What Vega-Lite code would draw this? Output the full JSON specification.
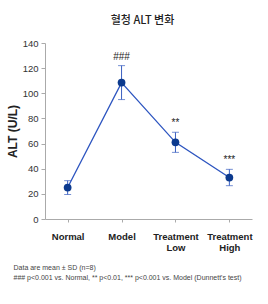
{
  "$schema": "https://vega.github.io/schema/vega-lite/v6.json",
  "width": 207,
  "height": 176,
  "autosize": {"type": "none"},
  "padding": {"left": 45, "top": 43, "right": 16, "bottom": 85},
  "background": "white",
  "config": {
    "font": "Liberation Sans",
    "view": {"stroke": null}
  },
  "title": {
    "text": "혈청 ALT 변화",
    "font": "Noto Sans CJK KR",
    "fontSize": 11,
    "fontWeight": 500,
    "color": "#222222",
    "anchor": "middle",
    "dx": -6,
    "offset": 12
  },
  "data": {
    "values": [
      {"group": "Normal", "mean": 25, "sd": 5.5, "sig": ""},
      {"group": "Model", "mean": 108.5, "sd": 13.5, "sig": "###"},
      {"group": "Treatment Low", "mean": 61, "sd": 8, "sig": "**"},
      {"group": "Treatment High", "mean": 33, "sd": 6.5, "sig": "***"}
    ]
  },
  "transform": [{"calculate": "datum.mean + datum.sd", "as": "upper"}],
  "encoding": {
    "x": {
      "field": "group",
      "type": "nominal",
      "sort": null,
      "scale": {"type": "point", "padding": 0.42},
      "axis": {
        "labelExpr": "split(datum.label, ' ')",
        "labelAngle": 0,
        "labelFontWeight": "bold",
        "labelFontSize": 9.5,
        "labelColor": "#222222",
        "labelPadding": 9,
        "labelLineHeight": 11,
        "domainColor": "#aaaaaa",
        "tickColor": "#aaaaaa",
        "tickSize": 3,
        "title": ["Data are mean ± SD (n=8)", "### p<0.001 vs. Normal, ** p<0.01, *** p<0.001 vs. Model (Dunnett's test)"],
        "titleFontSize": 7,
        "titleFontWeight": "normal",
        "titleColor": "#444444",
        "titleAnchor": "start",
        "titleAlign": "left",
        "titleBaseline": "top",
        "titleLineHeight": 10,
        "titleX": -32,
        "titleY": 44
      }
    },
    "y": {
      "field": "mean",
      "type": "quantitative",
      "scale": {"domain": [0, 140], "nice": false},
      "axis": {
        "title": "ALT (U/L)",
        "values": [0, 20, 40, 60, 80, 100, 120, 140],
        "labelOverlap": false,
        "labelSeparation": 0,
        "labelFlush": false,
        "grid": false,
        "labelFontSize": 9.5,
        "labelColor": "#333333",
        "labelPadding": 3,
        "domainColor": "#aaaaaa",
        "tickColor": "#aaaaaa",
        "tickSize": 4,
        "titleFontSize": 12,
        "titleFontWeight": 600,
        "titleColor": "#222222",
        "titlePadding": 3
      }
    }
  },
  "layer": [
    {
      "mark": {"type": "errorbar", "ticks": {"size": 7, "color": "#3a5fc0"}, "rule": {"color": "#3a5fc0", "strokeWidth": 1}},
      "encoding": {"yError": {"field": "sd"}}
    },
    {
      "mark": {"type": "line", "color": "#2d55c0", "strokeWidth": 1.3}
    },
    {
      "mark": {"type": "point", "filled": true, "opacity": 1, "color": "#0c3a8e", "size": 60}
    },
    {
      "mark": {"type": "text", "baseline": "bottom", "dy": -4, "fontSize": 10, "color": "#222222"},
      "encoding": {
        "y": {"field": "upper", "type": "quantitative"},
        "text": {"field": "sig"}
      }
    }
  ]
}
